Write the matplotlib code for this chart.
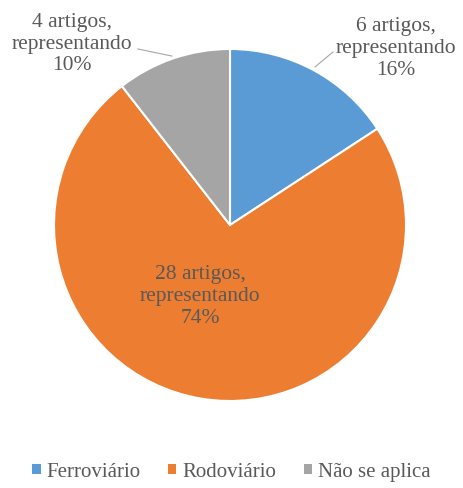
import matplotlib
matplotlib.use("Agg")
import matplotlib.pyplot as plt
from matplotlib.patches import Patch

categories = ["Ferroviário", "Rodoviário", "Não se aplica"]
values = [6, 28, 4]
percents = ["16%", "74%", "10%"]
colors = ["#5B9BD5", "#ED7D31", "#A5A5A5"]

plt.rcParams['font.family'] = ['Liberation Serif', 'DejaVu Serif']
txt_color = "#595959"

W, H = 463, 489
fig = plt.figure(figsize=(W/100, H/100), dpi=100)
cx, cy, r = 230, 226, 176
ax = fig.add_axes([(cx-r)/W, (H-cy-r)/H, 2*r/W, 2*r/H])

wedges, _ = ax.pie(values, colors=colors, startangle=90, counterclock=False,
                   radius=1.0, wedgeprops=dict(edgecolor='white', linewidth=1.5))
ax.set_xlim(-1, 1)
ax.set_ylim(-1, 1)
ax.set_aspect('equal')
ax.axis('off')

labels = [f"{v} artigos,\nrepresentando\n{p}" for v, p in zip(values, percents)]
fs = 15.5
ls = 1.2
# Ferroviário
ax.text(0.943, 1.01, labels[0], ha='center', va='center', fontsize=fs, color=txt_color,
        linespacing=ls, clip_on=False)
ax.plot([0.585, 0.483], [0.983, 0.898], color="#A6A6A6", lw=0.8, clip_on=False)
# Rodoviário
ax.text(-0.17, -0.40, labels[1], ha='center', va='center', fontsize=fs, color=txt_color,
        linespacing=ls)
# Não se aplica
ax.text(-0.898, 1.034, labels[2], ha='center', va='center', fontsize=fs, color=txt_color,
        linespacing=ls, clip_on=False)
ax.plot([-0.523, -0.33], [1.0, 0.96], color="#A6A6A6", lw=0.8, clip_on=False)

handles = [Patch(facecolor=c, edgecolor='none') for c in colors]
fig.legend(handles, categories, loc='center', bbox_to_anchor=(0.5, 1 - 473/H),
           ncol=3, frameon=False, fontsize=15, labelcolor=txt_color,
           handlelength=0.4, handleheight=0.4, handletextpad=0.3, columnspacing=1.3)

fig.savefig("out.png", dpi=100)
